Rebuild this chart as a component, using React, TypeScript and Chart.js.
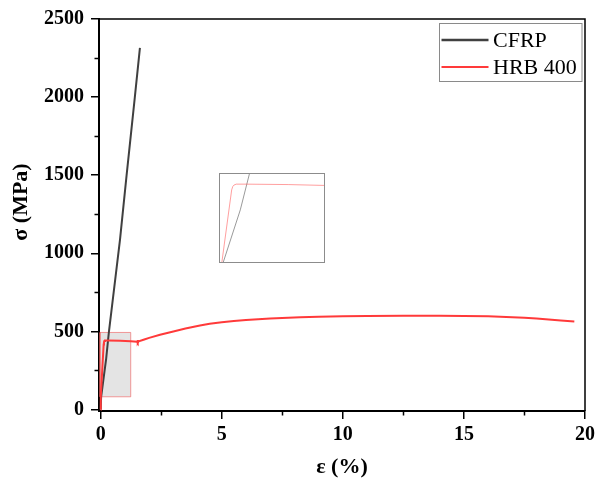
import React, { useEffect, useRef } from 'react';
import { Chart, registerables } from 'chart.js';

Chart.register(...registerables);

// ---- data ----
const SERIES_LABELS = ['CFRP', 'HRB 400'];
const CFRP_STRAIN = [0, 0.018, 0.225, 0.337, 0.8, 1.07, 1.41, 1.62];
const CFRP_STRESS = [0, 81, 324, 493, 1090, 1500, 2000, 2315];
const HRB_STRAIN = [
  0, 0.003, 0.122, 0.135, 0.15, 0.177, 0.3, 0.8, 1.24, 1.5, 1.52, 1.54, 1.57, 1.8, 2.0, 2.45, 3.0,
  3.5, 4.1, 4.5, 5.0, 5.5, 6.0, 7.0, 8.24, 9.0, 10.0, 11.0, 12.5, 14.0, 15.0, 16.0, 16.5, 17.0,
  17.5, 18.0, 18.5, 19.0, 19.56,
];
const HRB_STRESS = [
  0, 81, 416, 431, 438, 442, 442, 440, 436, 434, 444, 426, 436, 448, 458, 478, 499,
  518, 538, 549, 559, 566, 572, 582, 591, 594, 597, 599, 600, 600, 599, 597, 594, 591,
  587, 582, 576, 570, 563,
];
const X_MAJOR_TICKS = [0, 5, 10, 15, 20];
const X_MINOR_TICKS = [2.5, 7.5, 12.5, 17.5];
const Y_MAJOR_TICKS = [0, 500, 1000, 1500, 2000, 2500];
const Y_MINOR_TICKS = [250, 750, 1250, 1750, 2250];
// zoomed region (shaded box) and where its enlarged view sits, in data units
const ZOOM_STRAIN = [-0.03, 1.24];
const ZOOM_STRESS = [81, 493];
const INSET_STRAIN = [4.9, 9.28];
const INSET_STRESS = [939, 1512];
const X_TITLE = 'ε (%)';
const Y_TITLE = 'σ (MPa)';

const FAMILY = '"Liberation Serif", "Times New Roman", serif';
const CFRP_COLOR = '#404040';
const HRB_COLOR = '#ff3a3a';

const toPoints = (xs: number[], ys: number[]) => xs.map((x, i) => ({ x, y: ys[i] }));
const rectPoints = () => [
  { x: ZOOM_STRAIN[0], y: ZOOM_STRESS[0] },
  { x: ZOOM_STRAIN[1], y: ZOOM_STRESS[0] },
  { x: ZOOM_STRAIN[1], y: ZOOM_STRESS[1] },
  { x: ZOOM_STRAIN[0], y: ZOOM_STRESS[1] },
  { x: ZOOM_STRAIN[0], y: ZOOM_STRESS[0] },
];

const decorPlugin = {
  id: 'decor',
  afterDraw(chart: any) {
    const { ctx, chartArea } = chart;
    const xs = chart.scales.x;
    const ys = chart.scales.y;
    ctx.save();
    // minor ticks
    ctx.strokeStyle = '#000';
    ctx.lineWidth = 1.5;
    ctx.beginPath();
    X_MINOR_TICKS.forEach((v) => {
      const px = Math.round(xs.getPixelForValue(v)) + 0.5;
      ctx.moveTo(px, chartArea.bottom);
      ctx.lineTo(px, chartArea.bottom + 4.5);
    });
    Y_MINOR_TICKS.forEach((v) => {
      const py = Math.round(ys.getPixelForValue(v)) + 0.5;
      ctx.moveTo(chartArea.left, py);
      ctx.lineTo(chartArea.left - 4.5, py);
    });
    ctx.stroke();
    // top / right frame
    ctx.lineWidth = 1.5;
    ctx.beginPath();
    ctx.moveTo(chartArea.left, chartArea.top);
    ctx.lineTo(chartArea.right, chartArea.top);
    ctx.lineTo(chartArea.right, chartArea.bottom);
    ctx.stroke();
    // y title
    ctx.fillStyle = '#000';
    ctx.font = `bold 22px ${FAMILY}`;
    ctx.textAlign = 'center';
    ctx.textBaseline = 'middle';
    ctx.translate(21.5, 202);
    ctx.rotate(-Math.PI / 2);
    ctx.fillText(Y_TITLE, 0, 0);
    ctx.restore();

    // legend box
    ctx.save();
    const bx = chartArea.right - 146;
    const by = chartArea.top + 4;
    const bw = 142.5;
    const bh = 58;
    ctx.strokeStyle = '#8a8a8a';
    ctx.lineWidth = 1;
    ctx.strokeRect(Math.round(bx) + 0.5, Math.round(by) + 0.5, bw, bh);
    ctx.font = `22px ${FAMILY}`;
    ctx.textAlign = 'left';
    ctx.textBaseline = 'middle';
    ctx.fillStyle = '#000';
    const colors = [CFRP_COLOR, HRB_COLOR];
    const widths = [2.5, 2];
    SERIES_LABELS.forEach((label, i) => {
      const y = by + 17 + i * 27;
      ctx.strokeStyle = colors[i];
      ctx.lineWidth = widths[i];
      ctx.beginPath();
      ctx.moveTo(bx + 2.5, y);
      ctx.lineTo(bx + 49.5, y);
      ctx.stroke();
      ctx.fillText(label, bx + 54, y + 1);
    });
    ctx.restore();
  },
};

const insetPlugin = {
  id: 'insetFrame',
  beforeDraw(chart: any) {
    const { ctx, width, height } = chart;
    ctx.save();
    ctx.fillStyle = '#fff';
    ctx.fillRect(0, 0, width, height);
    ctx.restore();
  },
  afterDraw(chart: any) {
    const { ctx, width, height } = chart;
    ctx.save();
    ctx.strokeStyle = '#8c8c8c';
    ctx.lineWidth = 1;
    ctx.strokeRect(0.5, 0.5, width - 1, height - 1);
    ctx.restore();
  },
};

export default function App() {
  const mainRef = useRef<HTMLCanvasElement | null>(null);
  const insetRef = useRef<HTMLCanvasElement | null>(null);
  const insetBoxRef = useRef<HTMLDivElement | null>(null);

  useEffect(() => {
    if (!mainRef.current || !insetRef.current || !insetBoxRef.current) return;
    const tickFont = { family: FAMILY, size: 20, weight: 'bold' as const };
    const grid = {
      display: true,
      drawOnChartArea: false,
      drawTicks: true,
      tickLength: 8,
      color: '#000',
      lineWidth: 1.5,
    };
    const main = new Chart(mainRef.current, {
      type: 'line',
      data: {
        datasets: [
          {
            label: SERIES_LABELS[1],
            data: toPoints(HRB_STRAIN, HRB_STRESS),
            borderColor: HRB_COLOR,
            borderWidth: 2,
            pointRadius: 0,
            tension: 0,
            fill: false,
            order: 1,
          },
          {
            label: SERIES_LABELS[0],
            data: toPoints(CFRP_STRAIN, CFRP_STRESS),
            borderColor: CFRP_COLOR,
            borderWidth: 2,
            pointRadius: 0,
            fill: false,
            order: 2,
          },
          {
            label: 'zoom',
            data: rectPoints(),
            borderColor: 'rgba(240,90,90,0.6)',
            backgroundColor: '#e4e4e4',
            borderWidth: 1,
            pointRadius: 0,
            fill: 'shape',
            order: 10,
          },
        ],
      } as any,
      options: {
        animation: false,
        responsive: false,
        devicePixelRatio: 1,
        layout: { padding: { top: 19, right: 16, left: 0, bottom: 0 } },
        plugins: { legend: { display: false }, tooltip: { enabled: false } },
        scales: {
          x: {
            type: 'linear',
            min: -0.07,
            max: 20,
            afterBuildTicks: (s: any) => {
              s.ticks = X_MAJOR_TICKS.map((v) => ({ value: v }));
            },
            afterFit: (s: any) => {
              s.height = 68;
            },
            ticks: {
              font: tickFont,
              color: '#000',
              padding: 4,
              maxRotation: 0,
              autoSkip: false,
              callback: (v: any) => String(v),
            },
            grid,
            border: { display: true, color: '#000', width: 2 },
            title: {
              display: true,
              text: X_TITLE,
              color: '#000',
              font: { family: FAMILY, size: 22, weight: 'bold' },
              padding: { top: 0, bottom: -2 },
            },
          },
          y: {
            type: 'linear',
            min: -10,
            max: 2500,
            afterBuildTicks: (s: any) => {
              s.ticks = Y_MAJOR_TICKS.map((v) => ({ value: v }));
            },
            afterFit: (s: any) => {
              s.width = 99;
            },
            ticks: {
              font: tickFont,
              color: '#000',
              padding: 7,
              autoSkip: false,
              callback: (v: any) => String(v),
            },
            grid,
            border: { display: true, color: '#000', width: 2 },
          },
        },
      } as any,
      plugins: [decorPlugin],
    });

    const xs = main.scales.x;
    const ys = main.scales.y;
    const left = Math.round(xs.getPixelForValue(INSET_STRAIN[0]));
    const right = Math.round(xs.getPixelForValue(INSET_STRAIN[1]));
    const top = Math.round(ys.getPixelForValue(INSET_STRESS[1]));
    const bottom = Math.round(ys.getPixelForValue(INSET_STRESS[0]));
    const box = insetBoxRef.current;
    box.style.left = `${left}px`;
    box.style.top = `${top}px`;
    box.style.width = `${right - left}px`;
    box.style.height = `${bottom - top}px`;
    insetRef.current.width = right - left;
    insetRef.current.height = bottom - top;

    const inset = new Chart(insetRef.current, {
      type: 'line',
      data: {
        datasets: [
          {
            label: SERIES_LABELS[1],
            data: toPoints(HRB_STRAIN, HRB_STRESS),
            borderColor: 'rgba(255,80,80,0.55)',
            borderWidth: 1,
            pointRadius: 0,
            tension: 0,
            fill: false,
          },
          {
            label: SERIES_LABELS[0],
            data: toPoints(CFRP_STRAIN, CFRP_STRESS),
            borderColor: '#9a9a9a',
            borderWidth: 1,
            pointRadius: 0,
            fill: false,
          },
        ],
      } as any,
      options: {
        animation: false,
        responsive: false,
        devicePixelRatio: 1,
        layout: { padding: 0 },
        plugins: { legend: { display: false }, tooltip: { enabled: false } },
        scales: {
          x: { type: 'linear', min: ZOOM_STRAIN[0], max: ZOOM_STRAIN[1], display: false },
          y: { type: 'linear', min: ZOOM_STRESS[0], max: ZOOM_STRESS[1], display: false },
        },
      } as any,
      plugins: [insetPlugin],
    });

    return () => {
      inset.destroy();
      main.destroy();
    };
  }, []);

  return (
    <div style={{ position: 'fixed', left: 0, top: 0, width: 601, height: 479, background: '#fff' }}>
      <canvas ref={mainRef} width={601} height={479} style={{ display: 'block' }} />
      <div ref={insetBoxRef} style={{ position: 'absolute' }}>
        <canvas ref={insetRef} style={{ display: 'block' }} />
      </div>
    </div>
  );
}
